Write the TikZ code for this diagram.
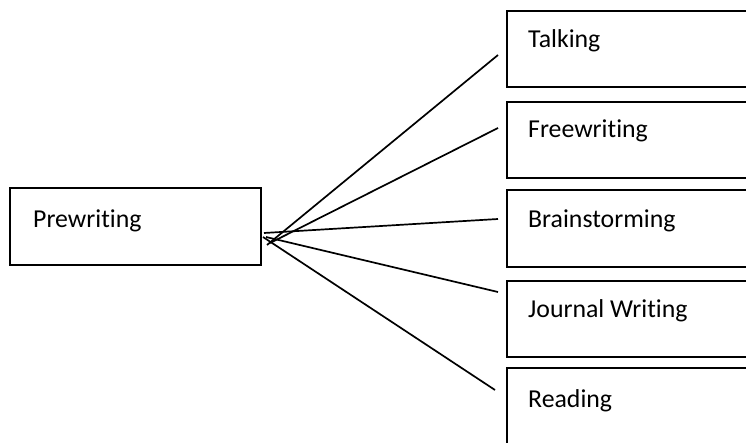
\documentclass[tikz,border=0pt]{standalone}
\usepackage{fontspec}
\setmainfont{Carlito}[RawFeature=-liga]
\begin{document}
\begin{tikzpicture}[x=1pt,y=-1pt,
  boxstyle/.style={draw=black,line width=1.9pt,rectangle,inner sep=0pt},
  lbl/.style={anchor=base west,inner sep=0pt,font=\fontsize{25.8}{30}\selectfont},
  link/.style={draw=black,line width=1.7pt}]
\useasboundingbox (0,0) rectangle (746,443);
% boxes
\node[boxstyle,minimum width=251pt,minimum height=77pt] (pre) at (135.5,226.5) {};
\node[boxstyle,minimum width=243pt,minimum height=76pt] (talk) at (628.5,49) {};
\node[boxstyle,minimum width=243pt,minimum height=76pt] (free) at (628.5,140) {};
\node[boxstyle,minimum width=243pt,minimum height=77pt] (brain) at (628.5,228.5) {};
\node[boxstyle,minimum width=243pt,minimum height=76pt] (journal) at (628.5,319) {};
\node[boxstyle,minimum width=243pt,minimum height=82pt] (read) at (628.5,409) {};
% labels
\node[lbl] (tpre) at (33,228) {Prewriting};
\node[lbl] (ttalk) at (528,48) {Talking};
\node[lbl] (tfree) at (528,138) {Freewriting};
\node[lbl] (tbrain) at (528,228) {Brainstorming};
\node[lbl] (tjournal) at (528,317) {Journal Writing};
\node[lbl] (tread) at (528,407) {Reading};
% connector ends
\coordinate (s1) at (267,245);
\coordinate (s2) at (270,243);
\coordinate (s3) at (264,233);
\coordinate (s4) at (266,237);
\coordinate (s5) at (263,237);
\coordinate (e1) at (498,55);
\coordinate (e2) at (498,128);
\coordinate (e3) at (498,219);
\coordinate (e4) at (498,292);
\coordinate (e5) at (495,390);
\draw[link] (s1) -- (e1);
\draw[link] (s2) -- (e2);
\draw[link] (s3) -- (e3);
\draw[link] (s4) -- (e4);
\draw[link] (s5) -- (e5);
\end{tikzpicture}
\end{document}
